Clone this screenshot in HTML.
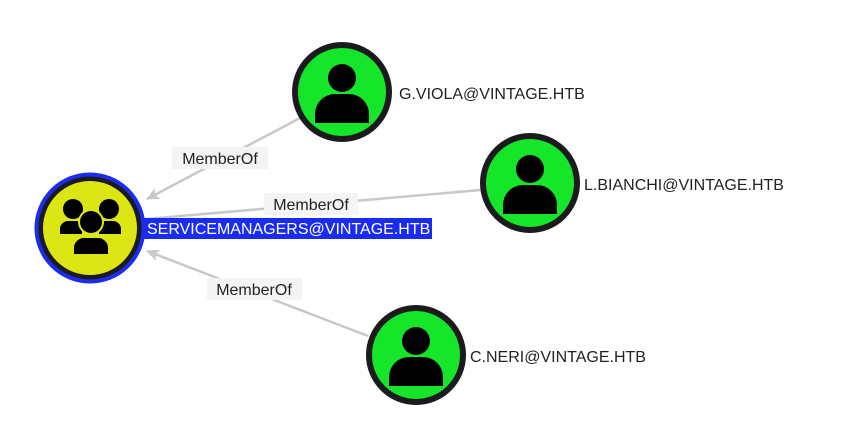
<!DOCTYPE html>
<html><head><meta charset="utf-8"><style>
html,body{margin:0;padding:0;background:#fff;width:847px;height:443px;overflow:hidden}
svg{display:block}
text{font-family:"Liberation Sans",sans-serif}
</style></head><body>
<svg width="847" height="443" viewBox="0 0 847 443">
<defs>
<marker id="a" markerWidth="14" markerHeight="12" refX="12" refY="6" orient="auto" markerUnits="userSpaceOnUse">
<path d="M0,0 L13,6 L0,12 L3,6 Z" fill="#c8c8c8"/>
</marker>
<g id="user">
<circle cx="0" cy="-14" r="14" fill="#000"/>
<path d="M-27,31 L-27,22 A20,20 0 0 1 -7,2 L7,2 A20,20 0 0 1 27,22 L27,31 Z" fill="#000"/>
</g>
</defs>
<g stroke="#c8c8c8" stroke-width="2.5" fill="none">
<line x1="300" y1="118" x2="147" y2="199" marker-end="url(#a)"/>
<line x1="481" y1="190" x2="146" y2="219"/>
<line x1="368" y1="336" x2="147" y2="251" marker-end="url(#a)"/>
</g>
<!-- edge labels -->
<rect x="172" y="147" width="96" height="22" fill="#f4f4f4"/>
<text x="220" y="164" font-size="16" fill="#222" text-anchor="middle">MemberOf</text>
<rect x="264" y="193" width="94" height="22" fill="#f4f4f4"/>
<text x="311" y="210" font-size="16" fill="#222" text-anchor="middle">MemberOf</text>
<rect x="207" y="278" width="95" height="22" fill="#f4f4f4"/>
<text x="254" y="295" font-size="16" fill="#222" text-anchor="middle">MemberOf</text>
<!-- group node -->
<circle cx="90" cy="228" r="50" fill="#dce614" stroke="#1b1b1f" stroke-width="6"/>
<circle cx="90" cy="228" r="53.5" fill="none" stroke="#1a2cf0" stroke-width="4"/>
<circle cx="73" cy="209" r="10" fill="#000"/>
<circle cx="109" cy="209" r="10" fill="#000"/>
<path d="M60,234 L60,229 A8,8 0 0 1 68,221 L82,221 L82,234 Z" fill="#000"/>
<path d="M99,221 L113,221 A8,8 0 0 1 121,229 L121,234 L99,234 Z" fill="#000"/>
<circle cx="91" cy="222" r="13" fill="#dce614"/>
<circle cx="91" cy="222" r="11" fill="#000"/>
<path d="M72,256 L72,248 A12,12 0 0 1 84,236 L98,236 A12,12 0 0 1 110,248 L110,256 Z" fill="#dce614"/>
<path d="M74,254 L74,247 A10,10 0 0 1 84,238 L98,238 A10,10 0 0 1 108,247 L108,254 Z" fill="#000"/>
<rect x="144" y="218" width="288" height="21" fill="#1a2cf0"/>
<text x="147" y="234" font-size="16" fill="#fff">SERVICEMANAGERS@VINTAGE.HTB</text>
<!-- users -->
<g>
<circle cx="342" cy="92" r="47" fill="#16e62a" stroke="#1b1b1f" stroke-width="6"/>
<use href="#user" x="342" y="92"/>
<text x="399" y="99" font-size="16" fill="#222">G.VIOLA@VINTAGE.HTB</text>
</g>
<g>
<circle cx="530" cy="183" r="47" fill="#16e62a" stroke="#1b1b1f" stroke-width="6"/>
<use href="#user" x="530" y="183"/>
<text x="584" y="190" font-size="16" fill="#222">L.BIANCHI@VINTAGE.HTB</text>
</g>
<g>
<circle cx="416" cy="355" r="47" fill="#16e62a" stroke="#1b1b1f" stroke-width="6"/>
<use href="#user" x="416" y="355"/>
<text x="470" y="362" font-size="16" fill="#222">C.NERI@VINTAGE.HTB</text>
</g>
</svg>
</body></html>
